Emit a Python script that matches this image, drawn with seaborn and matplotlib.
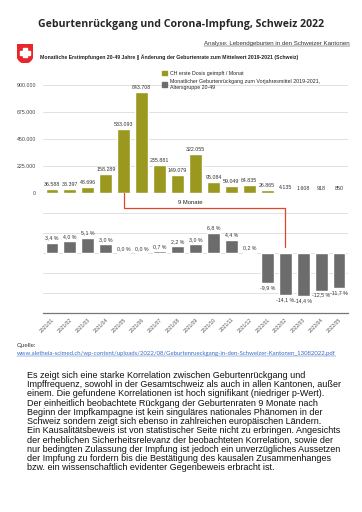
import numpy as np
import matplotlib
matplotlib.use("Agg")
import matplotlib.pyplot as plt
import matplotlib.transforms as mtransforms
from matplotlib.patches import Patch, Polygon, Rectangle
from matplotlib.lines import Line2D
import seaborn as sns

# Data
months = ["2021/01", "2021/02", "2021/03", "2021/04", "2021/05", "2021/06",
          "2021/07", "2021/08", "2021/09", "2021/10", "2021/11", "2021/12",
          "2022/01", "2022/02", "2022/03", "2022/04", "2022/05"]
first_doses = [36588, 33397, 48696, 158289, 533093, 843708, 235881, 149079,
               322055, 95084, 59049, 64835, 26865, 4135, 1608, 918, 850]
birth_change = [3.4, 4.0, 5.1, 3.0, 0.0, 0.0, 0.7, 2.2, 3.0, 6.8, 4.4, 0.2,
                -9.9, -14.1, -14.4, -12.5, -11.7]
dose_ticks = [0, 225000, 450000, 675000, 900000]
bracket_start = "2021/05"
bracket_end = "2022/02"

OLIVE = "#9a981f"
GRAY = "#6b6c6b"
GRID = "#dcdcdc"

sns.set_style("white")
plt.rcParams["font.family"] = ["Liberation Sans", "DejaVu Sans"]

W, H = 362, 512
fig = plt.figure(figsize=(W / 100, H / 100), dpi=100)


def fx(px):
    return px / W


def fy(py):
    return 1 - py / H


def de(v):
    return f"{v:,}".replace(",", ".")


def pct(v):
    return f"{v:.1f} %".replace(".", ",")


# ---- top chart: first doses
ax1 = fig.add_axes([fx(43), fy(193), fx(305), 114 / H])
sns.barplot(x=months, y=first_doses, color=OLIVE, saturation=1, width=0.72,
            ax=ax1, zorder=3)
ax1.set_xlim(-0.5, len(months) - 0.5)
ax1.set_ylim(0, 950000)
ax1.set_yticks(dose_ticks)
ax1.set_yticklabels([de(t) for t in dose_ticks], fontsize=3.8, color="#444444")
ax1.yaxis.grid(True, color=GRID, lw=0.6, zorder=0)
ax1.set_xticks([])
ax1.tick_params(axis="y", length=0, pad=5)
for s in ax1.spines.values():
    s.set_visible(False)
ax1.bar_label(ax1.containers[0], labels=[de(v) for v in first_doses],
              fontsize=3.8, padding=1.5, color="#333333")

# ---- bottom chart: birth rate change
ax2 = fig.add_axes([fx(43), fy(313), fx(305), 100 / H])
sns.barplot(x=months, y=birth_change, color=GRAY, saturation=1, width=0.72,
            ax=ax2, zorder=3)
ax2.set_xlim(-0.5, len(months) - 0.5)
ax2.set_ylim(-20, 40 / 3)
ax2.set_yticks(np.arange(-20, 14, 20 / 3))
ax2.set_yticklabels([])
ax2.yaxis.grid(True, color=GRID, lw=0.6, zorder=0)
ax2.tick_params(axis="y", length=0)
ax2.tick_params(axis="x", length=0, pad=3, labelsize=3.6, labelcolor="#555555")
plt.setp(ax2.get_xticklabels(), rotation=45, ha="right", rotation_mode="anchor")
for s in ["top", "left", "right"]:
    ax2.spines[s].set_visible(False)
ax2.spines["bottom"].set_color("#777777")
ax2.spines["bottom"].set_linewidth(0.9)
ax2.set_xlabel("")
ax2.bar_label(ax2.containers[0], labels=[pct(v) for v in birth_change],
              fontsize=3.8, padding=1.5, color="#333333")

# ---- red bracket "9 Monate"
i0, i1 = months.index(bracket_start), months.index(bracket_end)
tr = mtransforms.blended_transform_factory(ax1.transData, fig.transFigure)
fig.add_artist(Line2D([i0, i0, i1, i1], [fy(193), fy(208), fy(208), fy(247)],
                      transform=tr, color="#e0452c", lw=0.9, zorder=5))
fig.text((i0 + i1) / 2 - 0.8, fy(203), f"{i1 - i0} Monate", transform=tr,
         ha="center", va="center", fontsize=4.2, color="#222222")

# ---- legend
handles = [Patch(color=OLIVE, label="CH erste Dosis geimpft / Monat"),
           Patch(color=GRAY, label="Monatlicher Geburtenrückgang zum Vorjahresmittel 2019-2021,\nAltersgruppe 20-49")]
fig.legend(handles=handles, loc="upper left", bbox_to_anchor=(fx(160), fy(69)),
           frameon=False, fontsize=3.8, handlelength=0.9, handleheight=0.9,
           handletextpad=0.6, labelspacing=0.5, borderaxespad=0)

# ---- header
fig.text(0.5, fy(24), "Geburtenrückgang und Corona-Impfung, Schweiz 2022",
         ha="center", va="center", fontsize=7.6, fontweight="bold",
         family=["Open Sans", "DejaVu Sans"])
t_an = fig.text(fx(350), fy(44), "Analyse: Lebendgeburten in den Schweizer Kantonen",
                ha="right", va="center", fontsize=4.4, color="#333333")
fig.text(fx(40), fy(57),
         "Monatliche Erstimpfungen 20-49 Jahre || Änderung der Geburtenrate zum Mittelwert 2019-2021 (Schweiz)",
         ha="left", va="center", fontsize=3.7, fontweight="bold", color="#222222")

# Swiss flag
axf = fig.add_axes([fx(17), fy(63), fx(16), 19 / H])
axf.set_xlim(0, 1)
axf.set_ylim(0, 1.2)
axf.axis("off")
th = np.linspace(np.pi, 2 * np.pi, 30)
shield = [(0, 1.2), (1, 1.2), (1, 0.55)] + \
         [(0.5 + 0.5 * np.cos(t), 0.55 + 0.55 * np.sin(t)) for t in th[::-1]] + [(0, 0.55)]
axf.add_patch(Polygon(shield, closed=True, color="#e8262b"))
axf.add_patch(Rectangle((0.38, 0.35), 0.24, 0.6, color="white"))
axf.add_patch(Rectangle((0.2, 0.53), 0.6, 0.24, color="white"))

# ---- source
fig.text(fx(17), fy(345), "Quelle:", ha="left", va="center", fontsize=4.5,
         color="#333333", family=["Lato", "DejaVu Sans"])
t_url = fig.text(fx(17), fy(354),
                 "www.aletheia-scimed.ch/wp-content/uploads/2022/08/Geburtenrueckgang-in-den-Schweizer-Kantonen_13082022.pdf",
                 ha="left", va="center", fontsize=4.3, color="#3b6cc4",
                 family=["Lato", "DejaVu Sans"])

# ---- paragraph
body = ("Es zeigt sich eine starke Korrelation zwischen Geburtenrückgang und\n"
        "Impffrequenz, sowohl in der Gesamtschweiz als auch in allen Kantonen, außer\n"
        "einem. Die gefundene Korrelationen ist hoch signifikant (niedriger p-Wert).\n"
        "Der einheitlich beobachtete Rückgang der Geburtenraten 9 Monate nach\n"
        "Beginn der Impfkampagne ist kein singuläres nationales Phänomen in der\n"
        "Schweiz sondern zeigt sich ebenso in zahlreichen europäischen Ländern.\n"
        "Ein Kausalitätsbeweis ist von statistischer Seite nicht zu erbringen. Angesichts\n"
        "der erheblichen Sicherheitsrelevanz der beobachteten Korrelation, sowie der\n"
        "nur bedingten Zulassung der Impfung ist jedoch ein unverzügliches Aussetzen\n"
        "der Impfung zu fordern bis die Bestätigung des kausalen Zusammenhanges\n"
        "bzw. ein wissenschaftlich evidenter Gegenbeweis erbracht ist.")
fig.text(fx(27), fy(371), body, ha="left", va="top", fontsize=6.5,
         linespacing=1.03, color="#111111")

# underlines
fig.canvas.draw()
r = fig.canvas.get_renderer()
for t, c in [(t_an, "#333333"), (t_url, "#3b6cc4")]:
    bb = t.get_window_extent(r).transformed(fig.transFigure.inverted())
    fig.add_artist(Line2D([bb.x0, bb.x1], [bb.y0 + 0.001, bb.y0 + 0.001],
                          transform=fig.transFigure, color=c, lw=0.35))

fig.savefig("out.png", dpi=100, facecolor="white")
